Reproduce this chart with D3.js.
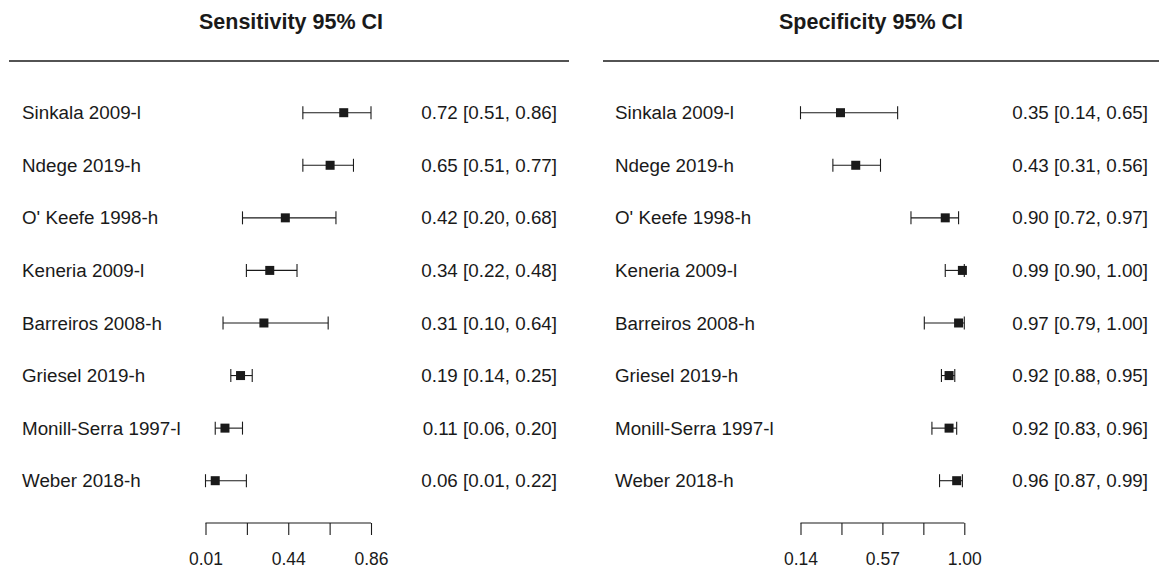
<!DOCTYPE html>
<html>
<head>
<meta charset="utf-8">
<script src="https://cdn.jsdelivr.net/npm/d3@7"></script>
<style>
  html, body { margin: 0; padding: 0; background: #fff; }
  text { font-family: "Liberation Sans", Arial, Helvetica, sans-serif; fill: #1a1a1a; }
</style>
</head>
<body>
<svg id="chart" width="1159" height="573"></svg>
<script>
const studies = ["Sinkala 2009-l", "Ndege 2019-h", "O' Keefe 1998-h", "Keneria 2009-l",
                 "Barreiros 2008-h", "Griesel 2019-h", "Monill-Serra 1997-l", "Weber 2018-h"];

const sensEst   = [0.72, 0.65, 0.42, 0.34, 0.31, 0.19, 0.11, 0.06];
const sensLower = [0.51, 0.51, 0.20, 0.22, 0.10, 0.14, 0.06, 0.01];
const sensUpper = [0.86, 0.77, 0.68, 0.48, 0.64, 0.25, 0.20, 0.22];

const specEst   = [0.35, 0.43, 0.90, 0.99, 0.97, 0.92, 0.92, 0.96];
const specLower = [0.14, 0.31, 0.72, 0.90, 0.79, 0.88, 0.83, 0.87];
const specUpper = [0.65, 0.56, 0.97, 1.00, 1.00, 0.95, 0.96, 0.99];

const sensTicks = [0.01, 0.2225, 0.435, 0.6475, 0.86];
const sensTickLabels = ["0.01", "", "0.44", "", "0.86"];
const specTicks = [0.14, 0.355, 0.57, 0.785, 1.00];
const specTickLabels = ["0.14", "", "0.57", "", "1.00"];

const svg = d3.select("#chart");
const ink = "#1a1a1a";

const y = d3.scalePoint().domain(studies).range([112.7, 480.7]).padding(0);

const panels = [
  { title: "Sensitivity 95% CI", est: sensEst, lo: sensLower, hi: sensUpper,
    ticks: sensTicks, tickLabels: sensTickLabels,
    xRange: [205.5, 371], titleX: 291, lineX: [9, 569], labelX: 22, valueX: 557 },
  { title: "Specificity 95% CI", est: specEst, lo: specLower, hi: specUpper,
    ticks: specTicks, tickLabels: specTickLabels,
    xRange: [800.5, 964.3], titleX: 871, lineX: [603, 1159], labelX: 615, valueX: 1148 }
];

const fmt = d3.format(".2f");

panels.forEach(p => {
  const x = d3.scaleLinear().domain([p.ticks[0], p.ticks[p.ticks.length - 1]]).range(p.xRange);
  const g = svg.append("g");

  g.append("text").attr("x", p.titleX).attr("y", 29)
    .attr("text-anchor", "middle").attr("font-size", 21.5).attr("font-weight", "bold")
    .text(p.title);

  g.append("line").attr("x1", p.lineX[0]).attr("x2", p.lineX[1])
    .attr("y1", 61).attr("y2", 61).attr("stroke", ink).attr("stroke-width", 1.3);

  const rows = studies.map((s, i) => ({ s, est: p.est[i], lo: p.lo[i], hi: p.hi[i] }));

  const row = g.selectAll("g.row").data(rows).enter().append("g").attr("class", "row");

  row.append("text").attr("x", p.labelX).attr("y", d => y(d.s)).attr("dy", "0.35em")
    .attr("font-size", 18.8).text(d => d.s);

  row.append("text").attr("x", p.valueX).attr("y", d => y(d.s)).attr("dy", "0.35em")
    .attr("text-anchor", "end").attr("font-size", 18.8)
    .text(d => `${fmt(d.est)} [${fmt(d.lo)}, ${fmt(d.hi)}]`);

  row.append("line").attr("x1", d => x(d.lo)).attr("x2", d => x(d.hi))
    .attr("y1", d => y(d.s)).attr("y2", d => y(d.s)).attr("stroke", ink).attr("stroke-width", 1.1);
  row.append("line").attr("x1", d => x(d.lo)).attr("x2", d => x(d.lo))
    .attr("y1", d => y(d.s) - 6.5).attr("y2", d => y(d.s) + 6.5).attr("stroke", ink).attr("stroke-width", 1.1);
  row.append("line").attr("x1", d => x(d.hi)).attr("x2", d => x(d.hi))
    .attr("y1", d => y(d.s) - 6.5).attr("y2", d => y(d.s) + 6.5).attr("stroke", ink).attr("stroke-width", 1.1);
  row.append("rect").attr("x", d => x(d.est) - 4.5).attr("y", d => y(d.s) - 4.5)
    .attr("width", 9).attr("height", 9).attr("fill", ink);

  const axis = d3.axisBottom(x).tickValues(p.ticks).tickSize(12)
    .tickFormat((d, i) => p.tickLabels[i]);
  const ag = g.append("g").attr("transform", "translate(0,523)").call(axis);
  ag.select(".domain").attr("stroke", ink).attr("stroke-width", 1.1)
    .attr("d", `M${p.xRange[0]},0H${p.xRange[1]}`);
  ag.selectAll(".tick line").attr("stroke", ink).attr("stroke-width", 1.1);
  ag.selectAll(".tick text").attr("font-size", 17.5).attr("fill", ink)
    .attr("font-family", "Liberation Sans, Arial, sans-serif").attr("dy", 0).attr("y", 42);
});
</script>
</body>
</html>
